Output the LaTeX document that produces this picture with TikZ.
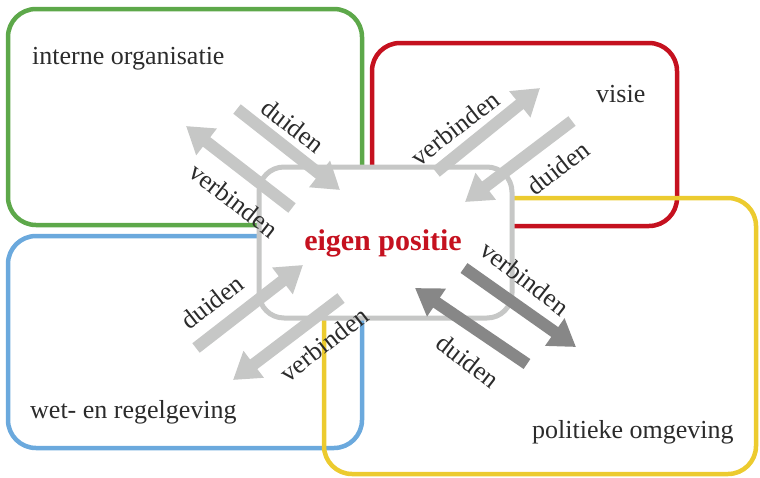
\documentclass[tikz,border=0pt]{standalone}
\usepackage{fontspec}
\setmainfont{Liberation Serif}
\usetikzlibrary{arrows.meta}

\definecolor{groen}{HTML}{5DA84A}
\definecolor{rood}{HTML}{C5111F}
\definecolor{geel}{HTML}{ECCB2F}
\definecolor{blauw}{HTML}{6BA9DD}
\definecolor{lichtgrijs}{HTML}{C6C7C6}
\definecolor{donkergrijs}{HTML}{878787}
\definecolor{tekstkleur}{HTML}{2B2B2B}

\tikzset{
  kader/.style={line width=4.5pt, rounded corners=28pt},
  pijl/.style={line width=12pt, draw=lichtgrijs, -{Triangle[width=32pt,length=26pt]}},
  pijldonker/.style={pijl, draw=donkergrijs},
  label/.style={font=\fontsize{26}{30}\selectfont, text=tekstkleur, inner sep=0pt},
}

\begin{document}
\begin{tikzpicture}[x=1pt, y=-1pt]

    \useasboundingbox (0,0) rectangle (760,477);

    % de vier kaders
    \draw[kader, groen] (8,9) rectangle (362,225);
    \draw[kader, rood] (372,43) rectangle (677,226);
    \draw[kader, blauw] (8,236) rectangle (362,448);
    \draw[kader, geel] (324,198) rectangle (756,474);

    \node[label, anchor=base west] (intern) at (32,64) {interne organisatie};
    \node[label, anchor=base west] (visie) at (596,102) {visie};
    \node[label, anchor=base west] (wet) at (30,418) {wet- en regelgeving};
    \node[label, anchor=base west] (politiek) at (532,438) {politieke omgeving};

    % middelste kader
    \draw[line width=5pt, lichtgrijs, fill=white, rounded corners=25pt] (259,167) rectangle (512,318);
    \node[label, text=rood, font=\fontsize{30}{34}\selectfont\bfseries] (eigen) at (383,243) {eigen positie};

    % pijlen
    \coordinate (duidenA) at (237,109);
    \coordinate (duidenB) at (340,190);
    \coordinate (verbindenA) at (292,208);
    \coordinate (verbindenB) at (186,126);
    \coordinate (verbindenC) at (436,172);
    \coordinate (verbindenD) at (540,88);
    \coordinate (duidenC) at (572,121);
    \coordinate (duidenD) at (465,202);
    \coordinate (duidenE) at (196,348);
    \coordinate (duidenF) at (303,265);
    \coordinate (verbindenE) at (341,298);
    \coordinate (verbindenF) at (233,380);
    \coordinate (verbindenG) at (464,268);
    \coordinate (verbindenH) at (576,347);
    \coordinate (duidenG) at (527,364);
    \coordinate (duidenH) at (415,288);

    \draw[pijl] (duidenA) -- (duidenB);
    \draw[pijl] (verbindenA) -- (verbindenB);
    \draw[pijl] (verbindenC) -- (verbindenD);
    \draw[pijl] (duidenC) -- (duidenD);
    \draw[pijl] (duidenE) -- (duidenF);
    \draw[pijl] (verbindenE) -- (verbindenF);
    \draw[pijldonker] (verbindenG) -- (verbindenH);
    \draw[pijldonker] (duidenG) -- (duidenH);

    \node[label, rotate=-38] (tekstA) at (293,126) {duiden};
    \node[label, rotate=-38] (tekstB) at (234,200) {verbinden};
    \node[label, rotate=38] (tekstC) at (455,128) {verbinden};
    \node[label, rotate=38] (tekstD) at (558,168) {duiden};
    \node[label, rotate=38] (tekstE) at (212,302) {duiden};
    \node[label, rotate=38] (tekstF) at (324,344) {verbinden};
    \node[label, rotate=-38] (tekstG) at (525,278) {verbinden};
    \node[label, rotate=-38] (tekstH) at (468,361) {duiden};

  \end{tikzpicture}
\end{document}
